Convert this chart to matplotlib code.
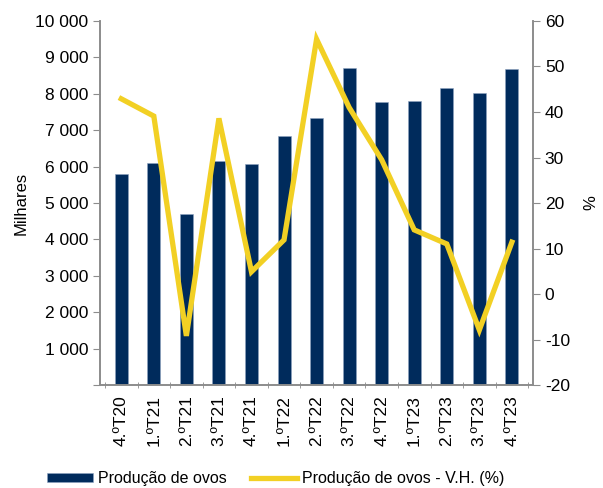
import matplotlib
matplotlib.use('Agg')
import matplotlib.pyplot as plt
from matplotlib.ticker import FuncFormatter, FixedLocator
import numpy as np

plt.rcParams['font.family'] = ['Liberation Sans', 'DejaVu Sans']
plt.rcParams['axes.unicode_minus'] = False

quarters = ['4.ºT20', '1.ºT21', '2.ºT21', '3.ºT21', '4.ºT21', '1.ºT22', '2.ºT22',
            '3.ºT22', '4.ºT22', '1.ºT23', '2.ºT23', '3.ºT23', '4.ºT23']
production = [5790, 6100, 4700, 6160, 6060, 6830, 7340, 8700, 7780, 7800, 8150, 8020, 8670]
yoy_change = [42.9, 39.1, -9.2, 38.6, 4.9, 11.9, 56.0, 41.0, 29.5, 14.1, 11.0, -7.9, 11.4]

navy = '#002B5C'
yellow = '#F2D024'
grey = '#8C8C8C'

fig = plt.figure(figsize=(6.03, 4.88), dpi=100)
ax = fig.add_axes([0.166, 0.211, 0.718, 0.746])
x = np.arange(len(quarters))
bars = ax.bar(x, production, width=0.4, color=navy, edgecolor='#8FA3BF', linewidth=0.4,
              label='Produção de ovos', zorder=2)
ax.set_xlim(-0.65, len(quarters) - 0.35)
ax.set_ylim(0, 10000)
ax.set_yticks(range(0, 10001, 1000))
ax.yaxis.set_major_formatter(FuncFormatter(
    lambda v, p: '' if v == 0 else f'{int(v):,}'.replace(',', ' ')))
ax.set_ylabel('Milhares', fontsize=12, labelpad=5)
ax.set_xticks(x)
ax.set_xticklabels(quarters, rotation=90, fontsize=12.5)
ax.tick_params(axis='x', length=0, pad=7)
ax.xaxis.set_minor_locator(FixedLocator(np.arange(-0.5, len(quarters), 1)))
ax.tick_params(axis='x', which='minor', length=5, direction='inout', color=grey)
ax.tick_params(axis='y', length=5, color=grey, labelsize=12.5)

ax2 = ax.twinx()
line, = ax2.plot(x, yoy_change, color=yellow, linewidth=3.8, solid_joinstyle='miter',
                 label='Produção de ovos - V.H. (%)', zorder=3)
ax2.set_ylim(-20, 60)
ax2.set_yticks(range(-20, 61, 10))
ax2.set_ylabel('%', fontsize=12, labelpad=10)
ax2.tick_params(axis='y', length=5, color=grey, labelsize=12.5)

for a in (ax, ax2):
    a.spines['top'].set_visible(False)
    for s in ('left', 'right', 'bottom'):
        a.spines[s].set_color(grey)
        a.spines[s].set_linewidth(1.2)

fig.legend(handles=[bars, line], loc='center left', bbox_to_anchor=(47 / 603, 1 - 479 / 488),
           ncol=2, frameon=False, fontsize=11.5, handlelength=2.9, handleheight=0.5,
           columnspacing=1.5, handletextpad=0.3, borderpad=0, borderaxespad=0)

fig.savefig('out.png', dpi=100)
